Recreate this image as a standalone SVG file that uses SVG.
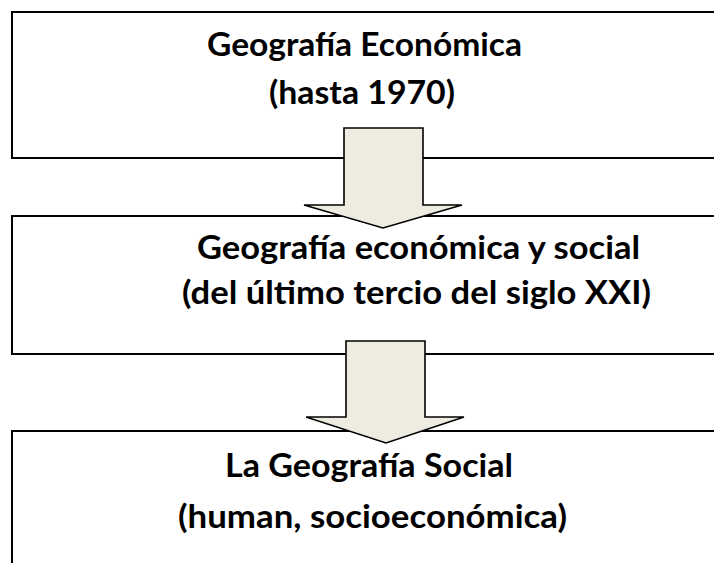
<svg xmlns="http://www.w3.org/2000/svg" width="714" height="563" viewBox="0 0 714 563">
<style>
.box{fill:#fff;stroke:#000;stroke-width:2}
.arrow{fill:#EEECE1;stroke:#000;stroke-width:1.6;stroke-linejoin:miter}
.t{font-family:Lato,"Open Sans","Liberation Sans",sans-serif;font-weight:bold;font-size:32px;fill:#000}
</style>
<rect x="0" y="0" width="714" height="563" fill="#fff"/>
<g id="node1">
<rect class="box" x="12" y="12" width="730" height="146"/>
<text class="t" x="207" y="56" textLength="315" lengthAdjust="spacingAndGlyphs">Geografía Económica</text>
<text class="t" x="269" y="104" textLength="186" lengthAdjust="spacingAndGlyphs">(hasta 1970)</text>
</g>
<g id="node2">
<rect class="box" x="12" y="216" width="730" height="138"/>
<text class="t" x="197" y="259" textLength="443" lengthAdjust="spacingAndGlyphs">Geografía económica y social</text>
<text class="t" x="182" y="304" textLength="469" lengthAdjust="spacingAndGlyphs">(del último tercio del siglo XXI)</text>
</g>
<g id="node3">
<rect class="box" x="12" y="431" width="730" height="150"/>
<text class="t" x="225" y="477" textLength="288" lengthAdjust="spacingAndGlyphs">La Geografía Social</text>
<text class="t" x="178" y="528" textLength="389" lengthAdjust="spacingAndGlyphs">(human, socioeconómica)</text>
</g>
<g id="connectors">
<polygon class="arrow" points="344,128 423,128 423,205 462,205 383,228 304,205 344,205"/>
<polygon class="arrow" points="346,341 425,341 425,417 464,417 386,443 306,417 346,417"/>
</g>
</svg>
